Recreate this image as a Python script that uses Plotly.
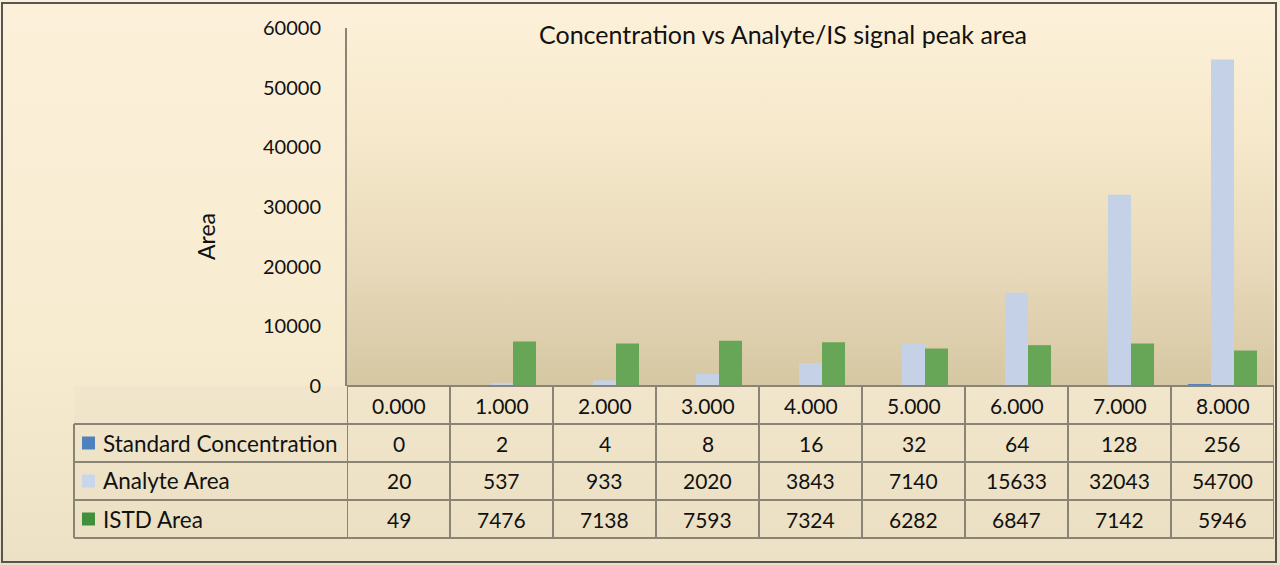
import base64
import plotly.graph_objects as go

categories = ["0.000", "1.000", "2.000", "3.000", "4.000", "5.000", "6.000", "7.000", "8.000"]
std_conc = [0, 2, 4, 8, 16, 32, 64, 128, 256]
analyte_area = [20, 537, 933, 2020, 3843, 7140, 15633, 32043, 54700]
istd_area = [49, 7476, 7138, 7593, 7324, 6282, 6847, 7142, 5946]
series_names = ["Standard Concentration", "Analyte Area", "ISTD Area"]
series_colors = ["#4f81bd", "#c4d1e6", "#66a656"]
key_colors = ["#4f81bd", "#c9d5ea", "#3f8f3c"]
y_ticks = [0, 10000, 20000, 30000, 40000, 50000, 60000]

W, H = 1280, 565
FONT = "Lato"
GRID = "#8a8477"
TXT = "#111111"

# layout geometry (pixels)
PX0, PX1 = 347, 1274
PY_TOP, PY_BOT = 28, 386
ROW_H = 38
TAB_X0 = 74


def px(x):
    return x / W


def py(y):
    return 1 - y / H


def svg_grad(stops):
    s = "".join(f'<stop offset="{o}" stop-color="{c}"/>' for o, c in stops)
    svg = (
        '<svg xmlns="http://www.w3.org/2000/svg" width="100" height="100" preserveAspectRatio="none">'
        f'<defs><linearGradient id="g" x1="0" y1="0" x2="0" y2="1">{s}</linearGradient></defs>'
        '<rect width="100" height="100" fill="url(#g)"/></svg>'
    )
    return "data:image/svg+xml;base64," + base64.b64encode(svg.encode()).decode()


fig = go.Figure()

series_values = [std_conc, analyte_area, istd_area]
for name, vals, col in zip(series_names, series_values, series_colors):
    fig.add_trace(go.Bar(
        x=categories, y=vals, name=name,
        marker=dict(color=col, line=dict(width=0)),
        showlegend=False,
    ))

annotations = [
    dict(text="Concentration vs Analyte/IS signal peak area", xref="paper", yref="paper",
         x=px(783), y=py(34), xanchor="center", yanchor="middle", showarrow=False,
         font=dict(family=FONT, size=25, color=TXT)),
    dict(text="Area", xref="paper", yref="paper", x=px(206), y=py(237),
         xanchor="center", yanchor="middle", textangle=-90, showarrow=False,
         font=dict(family=FONT, size=23, color=TXT)),
]
shapes = []

# ---- data table under the plot ----
n_rows = len(series_names)
tab_bottom = PY_BOT + (n_rows + 1) * ROW_H
line = dict(color=GRID, width=2)

# category header row (aligned to the x axis categories)
for c in categories:
    annotations.append(dict(text=c, xref="x", yref="paper", x=c, y=py(PY_BOT + ROW_H / 2),
                            xanchor="center", yanchor="middle", showarrow=False,
                            font=dict(family=FONT, size=21, color=TXT)))

# series rows
for r, (name, vals, kc) in enumerate(zip(series_names, series_values, key_colors)):
    yc = PY_BOT + ROW_H * (r + 1) + ROW_H / 2
    annotations.append(dict(text=name, xref="paper", yref="paper", x=px(101), y=py(yc),
                            xanchor="left", yanchor="middle", showarrow=False,
                            font=dict(family=FONT, size=22.5, color=TXT)))
    shapes.append(dict(type="rect", xref="paper", yref="paper",
                       x0=px(82), x1=px(95), y0=py(yc - 6.5), y1=py(yc + 6.5),
                       fillcolor=kc, line=dict(width=0)))
    for c, v in zip(categories, vals):
        annotations.append(dict(text=str(v), xref="x", yref="paper", x=c, y=py(yc),
                                xanchor="center", yanchor="middle", showarrow=False,
                                font=dict(family=FONT, size=21, color=TXT)))

# horizontal grid lines
shapes.append(dict(type="line", xref="paper", yref="paper", x0=px(PX0), x1=px(PX1),
                   y0=py(PY_BOT), y1=py(PY_BOT), line=line))
for r in range(1, n_rows + 2):
    yy = PY_BOT + r * ROW_H
    shapes.append(dict(type="line", xref="paper", yref="paper", x0=px(TAB_X0), x1=px(PX1),
                       y0=py(yy), y1=py(yy), line=line))
# vertical grid lines at category boundaries
for i in range(len(categories) + 1):
    shapes.append(dict(type="line", xref="x", yref="paper", x0=i - 0.5, x1=i - 0.5,
                       y0=py(PY_BOT), y1=py(tab_bottom), line=line))
shapes.append(dict(type="line", xref="paper", yref="paper", x0=px(TAB_X0), x1=px(TAB_X0),
                   y0=py(PY_BOT + ROW_H), y1=py(tab_bottom), line=line))

# outer chart border
shapes.append(dict(type="rect", xref="paper", yref="paper", x0=px(2), x1=px(1276),
                   y0=py(562), y1=py(3), line=dict(color="#555555", width=2),
                   fillcolor="rgba(0,0,0,0)"))

fig.update_layout(
    width=W, height=H,
    autosize=False,
    margin=dict(l=0, r=0, t=0, b=0, pad=0, autoexpand=False),
    paper_bgcolor="#f6ebd0",
    plot_bgcolor="rgba(0,0,0,0)",
    barmode="group",
    bargap=0.33,
    bargroupgap=0,
    font=dict(family=FONT, size=20, color=TXT),
    xaxis=dict(
        domain=[px(PX0), px(PX1)],
        range=[-0.5, len(categories) - 0.5],
        showticklabels=False, showgrid=False, zeroline=False,
        showline=False, ticks="", automargin=False,
    ),
    yaxis=dict(
        domain=[py(PY_BOT), py(PY_TOP)],
        range=[0, 60000],
        tickvals=y_ticks,
        tickformat="d",
        showgrid=False, zeroline=False,
        showline=True, linecolor=GRID, linewidth=2,
        ticks="", ticklabelstandoff=20, automargin=False,
        tickfont=dict(family=FONT, size=20, color=TXT),
    ),
    images=[
        dict(source=svg_grad([(0, "#fcf0da"), (0.6, "#f7ebd0"), (1, "#ece1c5")]),
             xref="paper", yref="paper", x=0, y=1, sizex=1, sizey=1,
             xanchor="left", yanchor="top", sizing="stretch", layer="below"),
        dict(source=svg_grad([(0, "#fcf0d8"), (0.35, "#f5e8ca"), (0.7, "#e6d8b8"), (1, "#d6c7a3")]),
             xref="paper", yref="paper", x=px(PX0), y=py(PY_TOP - 10),
             sizex=px(PX1) - px(PX0), sizey=(PY_BOT - PY_TOP + 10) / H,
             xanchor="left", yanchor="top", sizing="stretch", layer="below"),
        dict(source=svg_grad([(0, "#f1e6cb"), (1, "#ebe0c3")]),
             xref="paper", yref="paper", x=px(TAB_X0), y=py(PY_BOT),
             sizex=px(PX1) - px(TAB_X0), sizey=(tab_bottom - PY_BOT) / H,
             xanchor="left", yanchor="top", sizing="stretch", layer="below"),
    ],
    annotations=annotations,
    shapes=shapes,
)

fig.write_html(
    "out.html",
    config={"displayModeBar": False, "responsive": False},
    post_script="document.body.style.margin='0';document.body.style.overflow='hidden';",
)
